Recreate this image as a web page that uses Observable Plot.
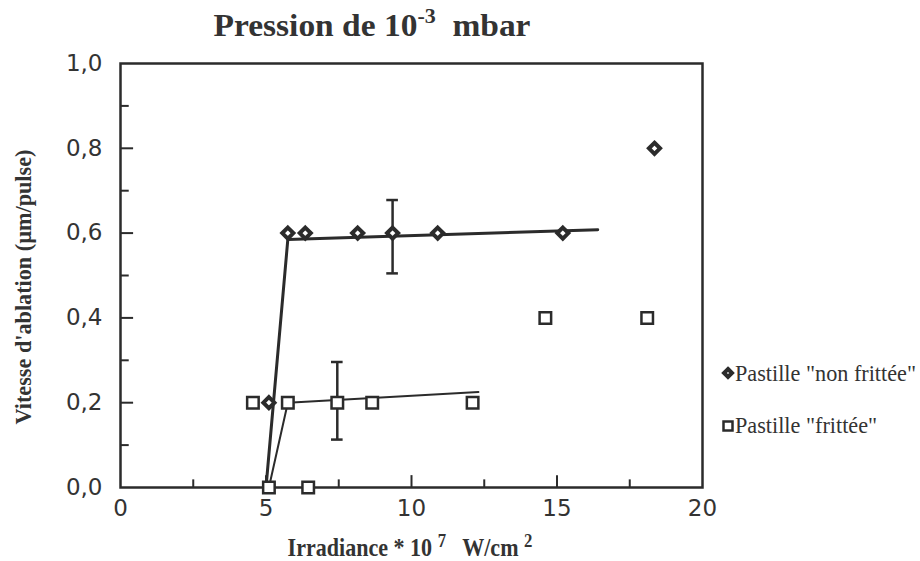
<!DOCTYPE html>
<html>
<head>
<meta charset="utf-8">
<script src="https://cdn.jsdelivr.net/npm/d3@7"></script>
<script src="https://cdn.jsdelivr.net/npm/@observablehq/plot@0.6"></script>
<style>
  html, body { margin: 0; padding: 0; background: #fff; }
  #chart { position: relative; width: 920px; height: 561px; }
</style>
</head>
<body>
<div id="chart"></div>
<script>
// ---- data ----
const nonFritteeX = [5.1, 5.75, 6.35, 8.15, 9.35, 10.9, 15.2, 18.35];
const nonFritteeY = [0.2, 0.6, 0.6, 0.6, 0.6, 0.6, 0.6, 0.8];
const fritteeX = [4.55, 5.1, 5.75, 6.45, 7.45, 8.65, 12.1, 14.6, 18.1];
const fritteeY = [0.2, 0.0, 0.2, 0.0, 0.2, 0.2, 0.2, 0.4, 0.4];
const fitNonX = [5.0, 5.75, 16.4];
const fitNonY = [0.0, 0.585, 0.608];
const fitFritX = [5.1, 5.75, 12.3];
const fitFritY = [0.0, 0.2, 0.225];
const errX = [9.35, 7.45];
const errLow = [0.505, 0.113];
const errHigh = [0.678, 0.296];
const xTicks = [0, 5, 10, 15, 20];
const xMinorTicks = [2.5, 7.5, 12.5, 17.5];
const yTicks = [0, 0.2, 0.4, 0.6, 0.8, 1.0];
const yMinorTicks = [0.1, 0.3, 0.5, 0.7, 0.9];
const legendLabels = ['Pastille "non frittée"', 'Pastille "frittée"'];

const ink = "#2b2b2b";
const non = nonFritteeX.map((x, i) => ({x, y: nonFritteeY[i]}));
const frit = fritteeX.map((x, i) => ({x, y: fritteeY[i]}));
const fitNon = fitNonX.map((x, i) => ({x, y: fitNonY[i]}));
const fitFrit = fitFritX.map((x, i) => ({x, y: fitFritY[i]}));
const errs = errX.map((x, i) => ({x, lo: errLow[i], hi: errHigh[i]}));
const capW = 0.2;

const plot = Plot.plot({
  width: 920,
  height: 561,
  marginLeft: 120,
  marginRight: 218,
  marginTop: 63,
  marginBottom: 74,
  x: {domain: [0, 20]},
  y: {domain: [0, 1]},
  style: {background: "#fff", color: ink},
  marks: [
    Plot.axisX({ticks: xTicks, tickSize: 0, tickPadding: 12, fontSize: 23,
      fontFamily: "DejaVu Sans", tickFormat: d => String(d), label: null, fill: "#333"}),
    Plot.axisY({ticks: yTicks, tickSize: 0, tickPadding: 18, fontSize: 23,
      fontFamily: "DejaVu Sans", tickFormat: d => d.toFixed(1).replace(".", ","), label: null, fill: "#333"}),
    // inward ticks
    Plot.ruleX(xTicks.slice(1, -1), {x: d => d, y1: 0, y2: 0.028, stroke: ink, strokeWidth: 2}),
    Plot.ruleX(xMinorTicks, {x: d => d, y1: 0, y2: 0.018, stroke: ink, strokeWidth: 2}),
    Plot.ruleY(yTicks.slice(1, -1), {y: d => d, x1: 0, x2: 0.45, stroke: ink, strokeWidth: 2}),
    Plot.ruleY(yMinorTicks, {y: d => d, x1: 0, x2: 0.3, stroke: ink, strokeWidth: 2}),
    Plot.frame({stroke: ink, strokeWidth: 2.5}),
    // fit lines
    Plot.line(fitNon, {x: "x", y: "y", stroke: ink, strokeWidth: 3}),
    Plot.line(fitFrit, {x: "x", y: "y", stroke: ink, strokeWidth: 2}),
    // error bars
    Plot.ruleX(errs, {x: "x", y1: "lo", y2: "hi", stroke: ink, strokeWidth: 2.5}),
    Plot.ruleY(errs, {y: "lo", x1: d => d.x - capW, x2: d => d.x + capW, stroke: ink, strokeWidth: 2.5}),
    Plot.ruleY(errs, {y: "hi", x1: d => d.x - capW, x2: d => d.x + capW, stroke: ink, strokeWidth: 2.5}),
    // points
    Plot.dot(frit, {x: "x", y: "y", symbol: "square", r: 6.5, fill: "#fff", stroke: ink, strokeWidth: 2.5}),
    Plot.dot(non, {x: "x", y: "y", symbol: "diamond2", r: 5, fill: "#fff", stroke: ink, strokeWidth: 4})
  ]
});

document.getElementById("chart").appendChild(plot);
const svg = d3.select(plot);

// helper: text squeezed horizontally to a target width (condensed look)
function squeeze(sel, targetW) {
  const w = sel.node().getComputedTextLength();
  return targetW / w;
}

// title
const title = svg.append("text")
  .attr("text-anchor", "middle")
  .attr("font-family", "Liberation Serif")
  .attr("font-weight", "bold")
  .attr("font-size", 32)
  .attr("fill", "#333");
title.append("tspan").text("Pression de 10");
title.append("tspan").attr("dy", -13).attr("font-size", 21).text("-3");
title.append("tspan").attr("dy", 13).text("\u00a0\u00a0mbar");
const ts = squeeze(title, 317);
title.attr("transform", `translate(372,36) scale(${ts},1)`);

// y label
const yl = svg.append("text")
  .attr("text-anchor", "middle")
  .attr("font-family", "Liberation Serif")
  .attr("font-weight", "bold")
  .attr("font-size", 23)
  .attr("fill", "#333")
  .text("Vitesse d'ablation (µm/pulse)");
const ys = squeeze(yl, 275);
yl.attr("transform", `translate(31,287) rotate(-90) scale(${ys},1)`);

// x label
const xl = svg.append("text")
  .attr("text-anchor", "middle")
  .attr("font-family", "Liberation Serif")
  .attr("font-weight", "bold")
  .attr("font-size", 25)
  .attr("fill", "#333");
xl.append("tspan").text("Irradiance * 10 ");
xl.append("tspan").attr("dy", -9).attr("font-size", 19).text("7");
xl.append("tspan").attr("dy", 9).text("\u00a0\u00a0 W/cm ");
xl.append("tspan").attr("dy", -9).attr("font-size", 19).text("2");
const xs = squeeze(xl, 245);
xl.attr("transform", `translate(410,556) scale(${xs},1)`);

// legend
const legY = [373, 426];
svg.append("path")
  .attr("d", d3.symbol(d3.symbolDiamond2, 40)())
  .attr("transform", `translate(728,${legY[0]})`)
  .attr("fill", "#fff").attr("stroke", ink).attr("stroke-width", 4);
svg.append("rect")
  .attr("x", 723.5).attr("y", legY[1] - 4.5).attr("width", 9).attr("height", 9)
  .attr("fill", "#fff").attr("stroke", ink).attr("stroke-width", 2.5);
const legBase = [381, 433];
let ls = null;
legendLabels.forEach((t, i) => {
  const lt = svg.append("text")
    .attr("text-anchor", "start")
    .attr("font-family", "Liberation Serif")
    .attr("font-size", 23)
    .attr("fill", "#333")
    .text(t);
  if (ls === null) ls = squeeze(lt, 181);
  lt.attr("transform", `translate(735,${legBase[i]}) scale(${ls},1)`);
});
</script>
</body>
</html>
